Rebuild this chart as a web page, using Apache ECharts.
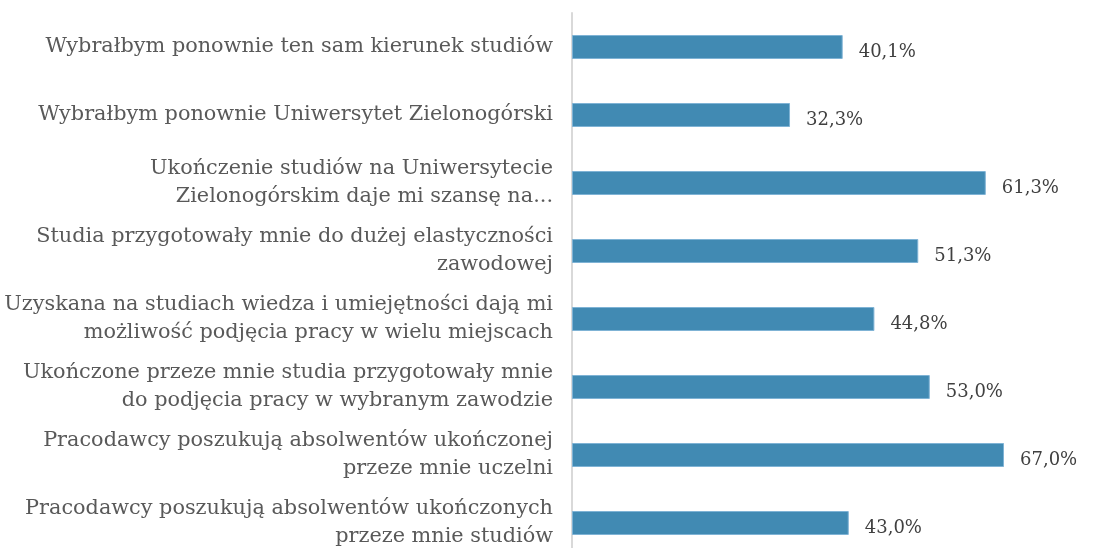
<!DOCTYPE html>
<html>
<head>
<meta charset="utf-8">
<script src="https://cdn.jsdelivr.net/npm/echarts@6/dist/echarts.min.js"></script>
<style>
  html, body { margin: 0; padding: 0; background: #fff; overflow: hidden; }
  #chart { width: 1107px; height: 557px; }
</style>
</head>
<body>
<div id="chart"></div>
<script>
// categories top -> bottom
var categories = [
  'Wybrałbym ponownie ten sam kierunek studiów',
  'Wybrałbym ponownie Uniwersytet Zielonogórski',
  'Ukończenie studiów na Uniwersytecie\nZielonogórskim daje mi szansę na...',
  'Studia przygotowały mnie do dużej elastyczności\nzawodowej',
  'Uzyskana na studiach wiedza i umiejętności dają mi\nmożliwość podjęcia pracy w wielu miejscach',
  'Ukończone przeze mnie studia przygotowały mnie\ndo podjęcia pracy w wybranym zawodzie',
  'Pracodawcy poszukują absolwentów ukończonej\nprzeze mnie uczelni',
  'Pracodawcy poszukują absolwentów ukończonych\nprzeze mnie studiów'
];
// bar lengths as drawn
var values = [40.1, 32.3, 61.3, 51.3, 44.8, 53.0, 64.0, 41.0];
// label texts as printed
var labels = ['40,1%', '32,3%', '61,3%', '51,3%', '44,8%', '53,0%', '67,0%', '43,0%'];

var serif = '"DejaVu Serif", "Liberation Serif", serif';

var chart = echarts.init(document.getElementById('chart'));
chart.setOption({
  animation: false,
  grid: { left: 572, top: 13, width: 472.5, bottom: 0 },
  xAxis: {
    type: 'value', min: 0, max: 70, show: false
  },
  yAxis: {
    type: 'category',
    inverse: true,
    data: categories,
    axisLine: { show: true, lineStyle: { color: '#d9d9d9', width: 2 } },
    axisTick: { show: false },
    axisLabel: {
      margin: 19,
      fontFamily: serif,
      fontSize: 20.8,
      lineHeight: 28,
      color: '#595959',
      align: 'right'
    }
  },
  series: [{
    type: 'bar',
    data: values,
    barWidth: 24,
    itemStyle: { color: '#418ab3', borderColor: '#7fb3d5', borderWidth: 1 },
    label: {
      show: true,
      position: 'right',
      distance: 16,
      offset: [0, 5],
      fontFamily: serif,
      fontSize: 18,
      color: '#404040',
      formatter: function (p) { return labels[p.dataIndex]; }
    }
  }]
});
</script>
</body>
</html>
